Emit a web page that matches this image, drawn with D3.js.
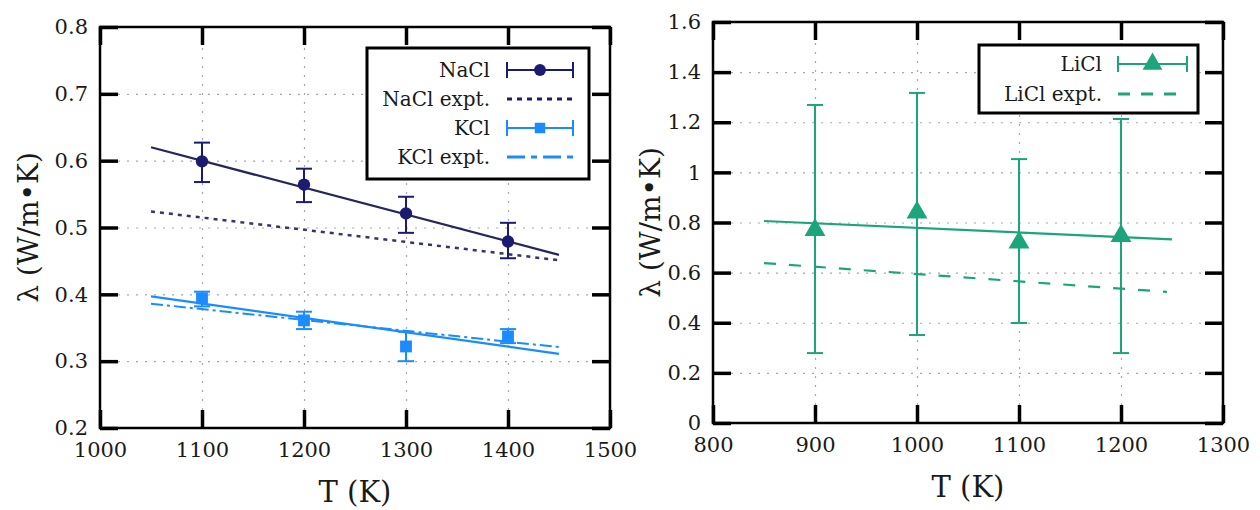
<!DOCTYPE html>
<html>
<head>
<meta charset="utf-8">
<script src="https://cdn.jsdelivr.net/npm/d3@7"></script>
<style>
  body { margin: 0; background: #fff; }
  svg text { font-family: "DejaVu Serif", "Liberation Serif", "Noto Serif", serif; fill: #1a1a1a; }
</style>
</head>
<body>
<div class="chart"></div>
<script>
// ---- data ----
var naclT = [1100, 1200, 1300, 1400];
var naclVal = [0.599, 0.564, 0.521, 0.479];
var naclLo = [0.568, 0.538, 0.492, 0.454];
var naclHi = [0.627, 0.588, 0.546, 0.507];

var kclT = [1100, 1200, 1300, 1400];
var kclVal = [0.394, 0.361, 0.322, 0.337];
var kclLo = [0.382, 0.348, 0.300, 0.327];
var kclHi = [0.404, 0.374, 0.344, 0.348];

var leftFitT = [1050, 1450];
var naclFit = [0.620, 0.459];
var naclExpt = [0.524, 0.451];
var kclFit = [0.397, 0.311];
var kclExpt = [0.386, 0.321];

var liclT = [900, 1000, 1100, 1200];
var liclVal = [0.77, 0.84, 0.72, 0.746];
var liclLo = [0.279, 0.351, 0.399, 0.279];
var liclHi = [1.269, 1.317, 1.053, 1.213];

var rightFitT = [850, 1250];
var liclFit = [0.806, 0.733];
var rightExptT = [850, 1245];
var liclExpt = [0.638, 0.523];

var leftXTicks = [1000, 1100, 1200, 1300, 1400, 1500];
var leftYTicks = [0.2, 0.3, 0.4, 0.5, 0.6, 0.7, 0.8];
var rightXTicks = [800, 900, 1000, 1100, 1200, 1300];
var rightYTicks = [0, 0.2, 0.4, 0.6, 0.8, 1, 1.2, 1.4, 1.6];

var navy = "#1b1b72", navyLine = "#26265e", blue = "#1a8cff", green = "#1ca57c";
var serif = "DejaVu Serif, Liberation Serif, Noto Serif, serif";

var svg = d3.select(".chart").append("svg")
  .attr("width", 1260)
  .attr("height", 510)
  .attr("font-family", serif);

function drawPanel(p) {
  var x = d3.scaleLinear().domain(p.xDomain).range([p.left, p.right]);
  var y = d3.scaleLinear().domain(p.yDomain).range([p.bottom, p.top]);
  var w = p.right - p.left, h = p.bottom - p.top;
  var g = svg.append("g");

  // grid
  g.append("g")
    .attr("transform", `translate(0,${p.bottom})`)
    .call(d3.axisBottom(x).tickValues(p.xTicks.slice(1, -1)).tickSize(-h).tickFormat(""))
    .call(a => a.select(".domain").remove())
    .selectAll("line").attr("stroke", "#a8a8a8").attr("stroke-width", 1.2).attr("stroke-dasharray", "2,7");
  g.append("g")
    .attr("transform", `translate(${p.left},0)`)
    .call(d3.axisLeft(y).tickValues(p.yTicks.slice(1, -1)).tickSize(-w).tickFormat(""))
    .call(a => a.select(".domain").remove())
    .selectAll("line").attr("stroke", "#a8a8a8").attr("stroke-width", 1.2).attr("stroke-dasharray", "2,7");

  // axes with inward ticks
  var bottomAxis = d3.axisBottom(x).tickValues(p.xTicks).tickSize(-18).tickPadding(14).tickFormat(d3.format("d"));
  var leftAxis = d3.axisLeft(y).tickValues(p.yTicks).tickSize(-18).tickPadding(12).tickFormat(d => String(+d.toFixed(1)));
  var bx = g.append("g").attr("transform", `translate(0,${p.bottom})`).call(bottomAxis);
  var ly = g.append("g").attr("transform", `translate(${p.left},0)`).call(leftAxis);
  var tx = g.append("g").attr("transform", `translate(0,${p.top})`).call(d3.axisTop(x).tickValues(p.xTicks).tickSize(-18).tickFormat(""));
  var ry = g.append("g").attr("transform", `translate(${p.right},0)`).call(d3.axisRight(y).tickValues(p.yTicks).tickSize(-18).tickFormat(""));
  [bx, ly, tx, ry].forEach(function (a) {
    a.attr("font-family", null).attr("font-size", 21);
    a.select(".domain").remove();
    a.selectAll(".tick line").attr("stroke", "#000").attr("stroke-width", 3.5);
    a.selectAll("text").attr("fill", "#1a1a1a");
  });

  // frame
  g.append("rect")
    .attr("x", p.left).attr("y", p.top).attr("width", w).attr("height", h)
    .attr("fill", "none").attr("stroke", "#000").attr("stroke-width", 2.5);

  // axis titles
  g.append("text")
    .attr("x", (p.left + p.right) / 2).attr("y", p.bottom + 74)
    .attr("text-anchor", "middle").style("font-size", "29px")
    .text("T (K)");
  g.append("text")
    .attr("transform", `translate(${p.yTitleX},${(p.top + p.bottom) / 2}) rotate(-90)`)
    .attr("text-anchor", "middle").attr("dy", "0.35em").style("font-size", "28px")
    .text("λ (W/m•K)");

  var line = d3.line().x(d => x(d[0])).y(d => y(d[1]));

  // fit and expt lines
  p.lines.forEach(function (l) {
    g.append("path")
      .datum(d3.zip(l.t, l.v))
      .attr("d", line)
      .attr("fill", "none")
      .attr("stroke", l.color)
      .attr("stroke-width", l.width)
      .attr("stroke-dasharray", l.dash || null);
  });

  // error bars and markers
  p.series.forEach(function (s) {
    var pts = s.t.map((t, i) => ({ t: t, v: s.v[i], lo: s.lo[i], hi: s.hi[i] }));
    var eb = g.append("g").attr("stroke", s.color).attr("stroke-width", 2);
    eb.selectAll(".v").data(pts).enter().append("line")
      .attr("x1", d => x(d.t)).attr("x2", d => x(d.t))
      .attr("y1", d => y(d.lo)).attr("y2", d => y(d.hi));
    eb.selectAll(".ct").data(pts).enter().append("line")
      .attr("x1", d => x(d.t) - 8).attr("x2", d => x(d.t) + 8)
      .attr("y1", d => y(d.hi)).attr("y2", d => y(d.hi));
    eb.selectAll(".cb").data(pts).enter().append("line")
      .attr("x1", d => x(d.t) - 8).attr("x2", d => x(d.t) + 8)
      .attr("y1", d => y(d.lo)).attr("y2", d => y(d.lo));
    g.selectAll(null).data(pts).enter().append("path")
      .attr("transform", d => `translate(${x(d.t)},${y(d.v)})`)
      .attr("d", d3.symbol().type(s.symbol).size(s.size))
      .attr("fill", s.color);
  });

  // legend
  var L = p.legend;
  g.append("rect")
    .attr("x", L.x).attr("y", L.y).attr("width", L.w).attr("height", L.h)
    .attr("fill", "#fff").attr("stroke", "#000").attr("stroke-width", 3);
  L.items.forEach(function (it, i) {
    var yy = L.y + L.first + i * L.step;
    g.append("text")
      .attr("x", L.textX).attr("y", yy).attr("dy", "0.35em")
      .attr("text-anchor", "end").style("font-size", "20px")
      .text(it.label);
    if (it.symbol) {
      var lg = g.append("g").attr("stroke", it.color).attr("stroke-width", 2);
      lg.append("line").attr("x1", L.s0).attr("x2", L.s1).attr("y1", yy).attr("y2", yy);
      lg.append("line").attr("x1", L.s0).attr("x2", L.s0).attr("y1", yy - 8).attr("y2", yy + 8);
      lg.append("line").attr("x1", L.s1).attr("x2", L.s1).attr("y1", yy - 8).attr("y2", yy + 8);
      g.append("path")
        .attr("transform", `translate(${(L.s0 + L.s1) / 2},${yy})`)
        .attr("d", d3.symbol().type(it.symbol).size(it.size))
        .attr("fill", it.color);
    } else {
      g.append("line")
        .attr("x1", L.s0).attr("x2", L.s1).attr("y1", yy).attr("y2", yy)
        .attr("stroke", it.color).attr("stroke-width", it.width)
        .attr("stroke-dasharray", it.dash);
    }
  });
}

// left panel: NaCl and KCl
drawPanel({
  left: 100, right: 610, top: 27, bottom: 428,
  xDomain: [1000, 1500], yDomain: [0.2, 0.8],
  xTicks: leftXTicks, yTicks: leftYTicks,
  yTitleX: 28,
  lines: [
    { t: leftFitT, v: naclFit, color: navyLine, width: 2.2 },
    { t: leftFitT, v: naclExpt, color: "#34346e", width: 2.5, dash: "4,5" },
    { t: leftFitT, v: kclExpt, color: blue, width: 2, dash: "12,4,3,4" },
    { t: leftFitT, v: kclFit, color: blue, width: 2.2 }
  ],
  series: [
    { t: naclT, v: naclVal, lo: naclLo, hi: naclHi, color: navy, symbol: d3.symbolCircle, size: 120 },
    { t: kclT, v: kclVal, lo: kclLo, hi: kclHi, color: blue, symbol: d3.symbolSquare, size: 140 }
  ],
  legend: {
    x: 367, y: 48, w: 222, h: 131, first: 22, step: 29,
    textX: 490, s0: 507, s1: 573,
    items: [
      { label: "NaCl", color: navy, symbol: d3.symbolCircle, size: 110 },
      { label: "NaCl expt.", color: navy, width: 3, dash: "5,5" },
      { label: "KCl", color: blue, symbol: d3.symbolSquare, size: 110 },
      { label: "KCl expt.", color: blue, width: 3, dash: "18,6,6,6" }
    ]
  }
});

// right panel: LiCl
drawPanel({
  left: 713, right: 1223, top: 22, bottom: 423,
  xDomain: [800, 1300], yDomain: [0, 1.6],
  xTicks: rightXTicks, yTicks: rightYTicks,
  yTitleX: 650,
  lines: [
    { t: rightFitT, v: liclFit, color: green, width: 2.2 },
    { t: rightExptT, v: liclExpt, color: green, width: 2.2, dash: "12,13" }
  ],
  series: [
    { t: liclT, v: liclVal, lo: liclLo, hi: liclHi, color: green, symbol: d3.symbolTriangle, size: 190 }
  ],
  legend: {
    x: 979, y: 45, w: 219, h: 68, first: 19, step: 30,
    textX: 1102, s0: 1118, s1: 1187,
    items: [
      { label: "LiCl", color: green, symbol: d3.symbolTriangle, size: 170 },
      { label: "LiCl expt.", color: green, width: 3, dash: "12,11" }
    ]
  }
});
</script>
</body>
</html>
